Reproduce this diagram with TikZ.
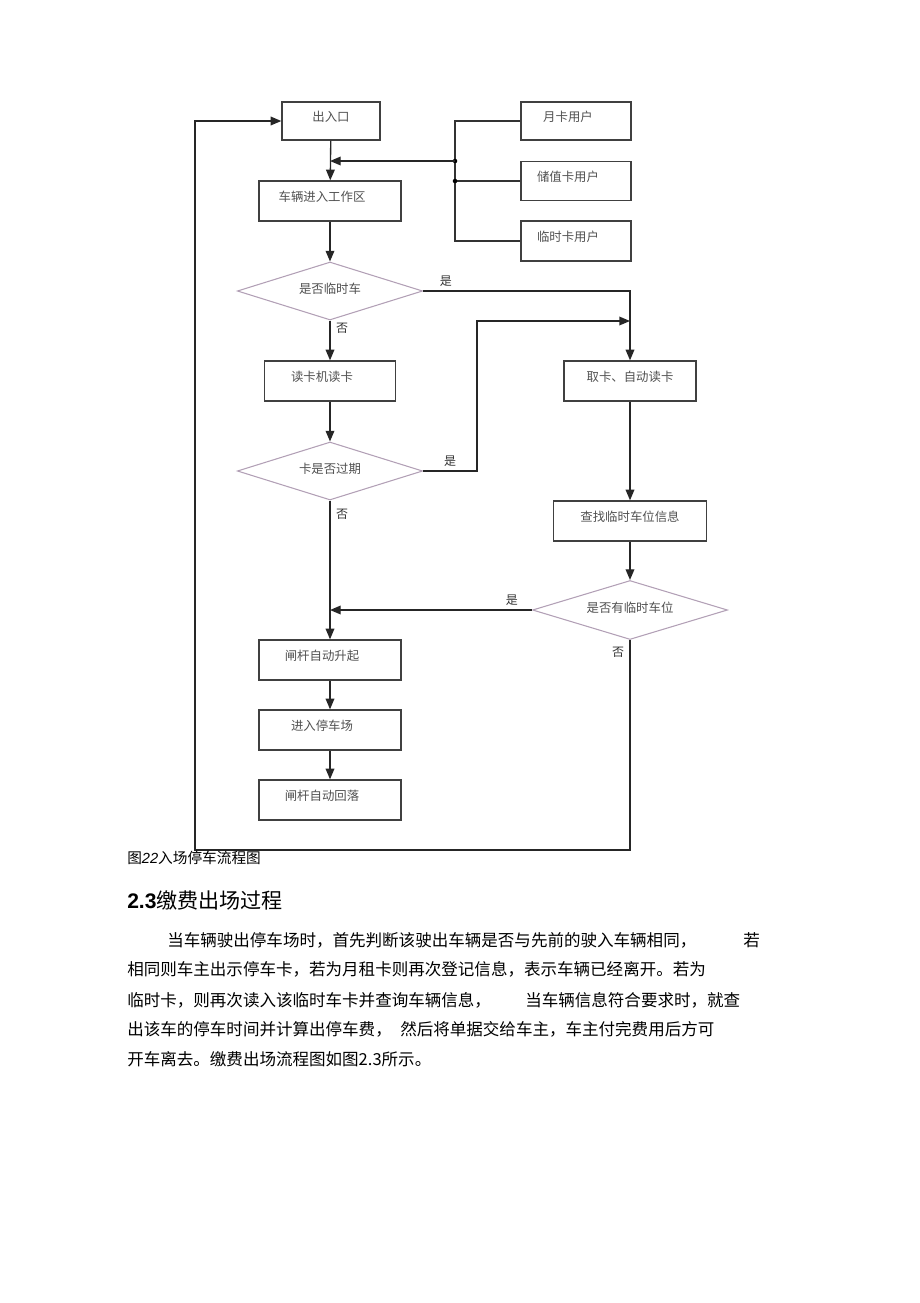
\documentclass[tikz,border=0pt]{standalone}
\usepackage{fontspec}
\setmainfont{Liberation Sans}
\newfontfamily\cjk{Noto Sans CJK SC}
\usetikzlibrary{shapes.geometric,arrows.meta}
\definecolor{diaedge}{RGB}{178,160,182}
\definecolor{boxtext}{RGB}{80,80,80}

\begin{document}
\begin{tikzpicture}[x=0.75pt,y=-0.75pt,
			box/.style={draw=black!75, line width=1pt, minimum height=30pt, text=boxtext,
				font=\cjk\fontsize{9.3}{11}\selectfont, text height=8pt, text depth=7pt},
			lean/.style={execute at end node={\hspace*{12pt}}},
			choice/.style={diamond, aspect=3.2, draw=diaedge, line width=0.8pt, inner sep=0pt,
				minimum width=139pt, minimum height=43.5pt, text=boxtext,
				font=\cjk\fontsize{9.3}{11}\selectfont, text height=8pt, text depth=4pt},
			flow/.style={draw=black!85, line width=1pt, -{Triangle[length=8pt,width=6.5pt]}},
			wire/.style={draw=black!80, line width=1pt},
			tag/.style={font=\cjk\fontsize{9}{10}\selectfont, text=black!80, inner sep=1pt},
			para/.style={anchor=west, inner sep=0pt, font=\cjk\fontsize{12.4}{14}\selectfont}]
			\useasboundingbox (0,0) rectangle (920,1303);
			\node[box, minimum width=73.5pt, minimum height=28.5pt] (gate) at (331,121) {出入口};
			\node[box, lean, minimum width=106.5pt] (enter) at (330,201) {车辆进入工作区};
			\node[choice] (isTemp) at (330,291) {是否临时车};
			\node[box, lean, minimum width=98.25pt] (reader) at (330,381) {读卡机读卡};
			\node[choice] (expired) at (330,471) {卡是否过期};
			\node[box, lean, minimum width=106.5pt] (lift) at (330,660) {闸杆自动升起};
			\node[box, lean, minimum width=106.5pt] (park) at (330,730) {进入停车场};
			\node[box, lean, minimum width=106.5pt] (drop) at (330,800) {闸杆自动回落};
			\node[box, lean, minimum width=82.5pt, minimum height=28.5pt] (monthly) at (576,121) {月卡用户};
			\node[box, lean, minimum width=82.5pt, minimum height=29pt] (stored) at (576,181) {储值卡用户};
			\node[box, lean, minimum width=82.5pt] (tempUser) at (576,241) {临时卡用户};
			\node[box, minimum width=99pt] (takeCard) at (630,381) {取卡、自动读卡};
			\node[box, minimum width=114.75pt] (search) at (630,521) {查找临时车位信息};
			\node[choice, minimum width=146.25pt, minimum height=44.25pt] (hasSpace) at (630,610) {是否有临时车位};

			\coordinate (hub) at (455,161);
			\coordinate (inlet) at (330,161);
			\coordinate (merge) at (630,321);
			\coordinate (back) at (330,610);

			\draw[wire] (monthly.west) -| (455,241) -- (tempUser.west);
			\draw[wire] (stored.west) -- (455,181);
			\fill (hub) circle (1.7pt);
			\fill (455,181) circle (1.7pt);
			\draw[flow] (hub) -- (inlet);

			\draw[flow] (gate) -- (enter);
			\draw[flow] (enter) -- (isTemp);
			\draw[flow] (isTemp) -- node[tag, pos=0.2, anchor=west, xshift=3pt] {否} (reader);
			\draw[flow] (isTemp.east) -| node[tag, pos=0.055, above=2pt] {是} (takeCard.north);
			\draw[flow] (reader) -- (expired);
			\draw[flow] (expired.east) -- node[tag, midway, above=2pt] {是} (477,471) |- (merge);
			\draw[flow] (expired.south) -- node[tag, pos=0.1, anchor=west, xshift=3pt] {否} (lift.north);
			\draw[flow] (takeCard) -- (search);
			\draw[flow] (search) -- (hasSpace);
			\draw[flow] (hasSpace.west) -- node[tag, pos=0.1, above=2pt] {是} (back);
			\draw[flow] (hasSpace.south) -- node[tag, pos=0.06, anchor=east, xshift=-3pt] {否} (630,850) -| (195,121) -- (gate.west);
			\draw[flow] (lift) -- (park);
			\draw[flow] (park) -- (drop);

			\node[anchor=west, inner sep=0pt, font=\cjk\fontsize{11}{12}\selectfont] (caption) at (127,858)
				{图{\normalfont\fontsize{11}{12}\selectfont\itshape 22}入场停车流程图};
			\node[anchor=west, inner sep=0pt, font=\cjk\fontsize{15.8}{18}\selectfont] (heading) at (127,900)
				{{\normalfont\fontsize{15.8}{18}\selectfont\bfseries 2.3}缴费出场过程};
			\node[para] (l1) at (167,940) {当车辆驶出停车场时，首先判断该驶出车辆是否与先前的驶入车辆相同，};
			\node[para] (l1b) at (743,940) {若};
			\node[para] (l2) at (127,969) {相同则车主出示停车卡，若为月租卡则再次登记信息，表示车辆已经离开。若为};
			\node[para] (l3) at (127,1000) {临时卡，则再次读入该临时车卡并查询车辆信息，};
			\node[para] (l3b) at (525,1000) {当车辆信息符合要求时，就查};
			\node[para] (l4) at (127,1029) {出该车的停车时间并计算出停车费，};
			\node[para] (l4b) at (400,1029) {然后将单据交给车主，车主付完费用后方可};
			\node[para] (l5) at (127,1059) {开车离去。缴费出场流程图如图2.3所示。};
		\end{tikzpicture}
\end{document}
